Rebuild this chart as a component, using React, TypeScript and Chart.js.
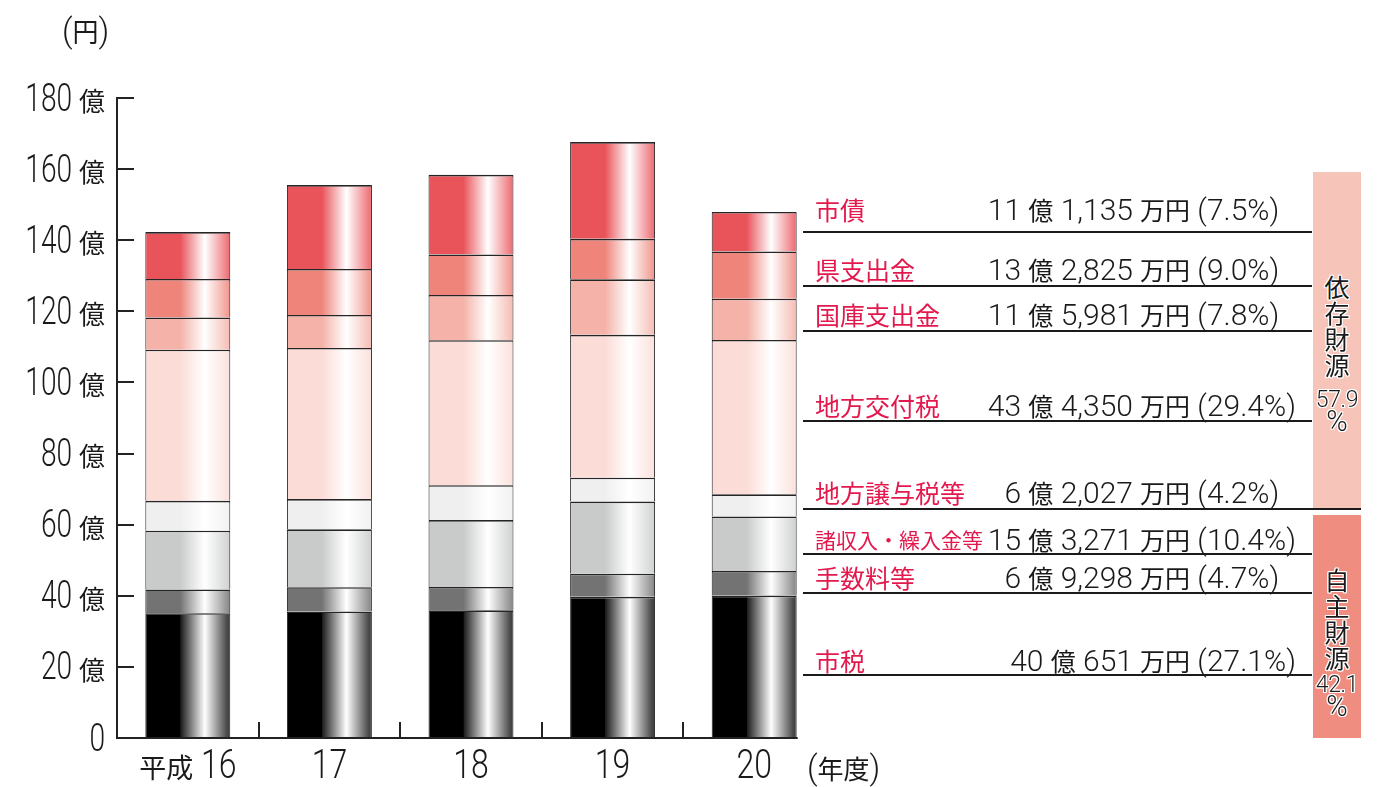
import React, { useEffect, useRef } from 'react';
import { Chart, registerables } from 'chart.js';

Chart.register(...registerables);

// ---------- data ----------
const years = ['平成 16', '17', '18', '19', '20'];
// 億円, bottom to top
const shizei = [35.1, 35.6, 35.9, 39.7, 40.0651];
const tesuuryou = [6.7, 6.8, 6.6, 6.5, 6.9298];
const shoshuunyu = [16.5, 16.3, 18.8, 20.3, 15.3271];
const jouyozei = [8.4, 8.5, 9.8, 6.7, 6.2027];
const koufuzei = [42.5, 42.5, 40.8, 40.2, 43.435];
const kokko = [9.1, 9.3, 12.7, 15.6, 11.5981];
const kenshishutsu = [10.8, 12.9, 11.4, 11.4, 13.2825];
const shisai = [13.2, 23.6, 22.4, 27.2, 11.1135];

const seriesNames = ['市税', '手数料等', '諸収入・繰入金等', '地方譲与税等', '地方交付税', '国庫支出金', '県支出金', '市債'];
const seriesValues = [shizei, tesuuryou, shoshuunyu, jouyozei, koufuzei, kokko, kenshishutsu, shisai];
const seriesColors = ['#000000', '#737373', '#c9cbcb', '#efefef', '#fbdcd6', '#f4b2a8', '#ee847a', '#e9535a'];

const yMax = 180;
const yStep = 20;
const yUnit = '億';

// legend (top to bottom), FY20 breakdown
const legendNames = ['市債', '県支出金', '国庫支出金', '地方交付税', '地方譲与税等', '諸収入・繰入金等', '手数料等', '市税'];
const legendAmounts = ['11 億 1,135', '13 億 2,825', '11 億 5,981', '43 億 4,350', '6 億 2,027', '15 億 3,271', '6 億 9,298', '40 億 651'];
const legendShares = ['7.5%', '9.0%', '7.8%', '29.4%', '4.2%', '10.4%', '4.7%', '27.1%'];
const groupNames = ['依存財源', '自主財源'];
const groupShares = ['57.9', '42.1'];

// ---------- layout ----------
const W = 1389;
const H = 787;
const AREA = { left: 117, top: 98, right: 825, bottom: 738 };
const BAR_FRAC = 0.6;
const legendLineY = [232, 286, 331, 421, 509, 554, 593, 675];
const legendBaseY = [220, 280, 325, 416, 503, 550, 588, 671];
const groupTop = [273, 566];
const groupNumY = [400, 685];
const groupPctY = [421, 706];
const LATIN = "Roboto, 'Noto Sans', sans-serif";
const CJK = "'Noto Sans CJK JP', sans-serif";
const INK = '#1a1a1a';

const isCJK = (ch: string) => /[\u3000-\u9fff\uff00-\uffef]/.test(ch);
function splitRuns(text: string) {
  const out: { t: string; cjk: boolean }[] = [];
  for (const ch of text) {
    const c = isCJK(ch);
    if (out.length && out[out.length - 1].cjk === c) out[out.length - 1].t += ch;
    else out.push({ t: ch, cjk: c });
  }
  return out;
}

// canvas text: condensed latin + cjk
function drawMixed(ctx: CanvasRenderingContext2D, text: string, x: number, y: number, align: 'left' | 'right' | 'center', latinSize: number, latinScale: number, cjkSize: number) {
  const rs = splitRuns(text);
  const lf = `300 ${latinSize}px ${LATIN}`;
  const cf = `${cjkSize}px ${CJK}`;
  const ws = rs.map((r) => {
    ctx.font = r.cjk ? cf : lf;
    return ctx.measureText(r.t).width * (r.cjk ? 1 : latinScale);
  });
  const total = ws.reduce((a, b) => a + b, 0);
  let cx = align === 'left' ? x : align === 'right' ? x - total : x - total / 2;
  ctx.textBaseline = 'middle';
  ctx.textAlign = 'left';
  rs.forEach((r, i) => {
    ctx.save();
    ctx.font = r.cjk ? cf : lf;
    ctx.translate(cx, y);
    if (!r.cjk) ctx.scale(latinScale, 1);
    ctx.fillText(r.t, 0, 0);
    ctx.restore();
    cx += ws[i];
  });
}

function mixWhite(hex: string, t: number) {
  const n = parseInt(hex.slice(1), 16);
  const r = (n >> 16) & 255, g = (n >> 8) & 255, b = n & 255;
  const f = (v: number) => Math.round(v + (255 - v) * t);
  return `rgb(${f(r)},${f(g)},${f(b)})`;
}

function barFill(c: any, base: string) {
  if (c.type !== 'data') return base;
  const chart = c.chart;
  const xs = chart.scales && chart.scales.x;
  if (!xs || !xs.width) return base;
  const cx = xs.getPixelForValue(c.dataIndex);
  const w = (xs.width / years.length) * BAR_FRAC;
  const g = chart.ctx.createLinearGradient(cx - w / 2, 0, cx + w / 2, 0);
  if (base === '#000000') {
    g.addColorStop(0, '#000000');
    g.addColorStop(0.41, '#000000');
    g.addColorStop(0.415, '#1c1c1c');
    g.addColorStop(0.7, '#ffffff');
    g.addColorStop(0.96, '#4a4a4a');
    g.addColorStop(1, '#3a3a3a');
  } else {
    g.addColorStop(0, base);
    g.addColorStop(0.41, base);
    g.addColorStop(0.7, '#ffffff');
    g.addColorStop(1, mixWhite(base, 0.12));
  }
  return g;
}

const yLabel = (v: number) => (v === 0 ? '0' : `${v} ${yUnit}`);

const axisMarks = {
  id: 'axisMarks',
  afterDatasetsDraw(chart: any) {
    const { ctx, chartArea, scales } = chart;
    const x = scales.x, y = scales.y;
    ctx.save();
    ctx.strokeStyle = '#222';
    ctx.lineWidth = 2;
    const line = (x1: number, y1: number, x2: number, y2: number) => {
      ctx.beginPath(); ctx.moveTo(x1, y1); ctx.lineTo(x2, y2); ctx.stroke();
    };
    y.ticks.forEach((t: any) => {
      if (t.value === 0) return;
      const py = Math.round(y.getPixelForValue(t.value));
      line(chartArea.left, py, chartArea.left + 17, py);
    });
    for (let i = 1; i < years.length; i++) {
      const px = Math.round((x.getPixelForValue(i - 1) + x.getPixelForValue(i)) / 2);
      line(px, chartArea.bottom, px, chartArea.bottom - 16);
    }
    const meta = chart.getDatasetMeta(0);
    const last = meta.data[meta.data.length - 1];
    const right = last.x + last.width / 2 + 1;
    line(chartArea.left - 1, chartArea.bottom, right, chartArea.bottom);

    // tick labels (condensed)
    ctx.fillStyle = INK;
    y.ticks.forEach((t: any) => {
      const py = y.getPixelForValue(t.value);
      drawMixed(ctx, yLabel(t.value), chartArea.left - 12, py + 3, 'right', 38, 0.74, 26);
    });
    years.forEach((lab, i) => {
      const px = x.getPixelForValue(i);
      drawMixed(ctx, lab, px, chartArea.bottom + 30, 'center', 40, 0.8, 27);
    });
    ctx.restore();
  },
};

function Mixed({ text, latinSize, cjkSize }: { text: string; latinSize: number; cjkSize: number }) {
  return (
    <>
      {splitRuns(text).map((r, i) => (
        <span key={i} style={r.cjk ? { fontFamily: CJK, fontSize: cjkSize, fontWeight: 400 } : { fontFamily: LATIN, fontSize: latinSize, fontWeight: 300 }}>{r.t}</span>
      ))}
    </>
  );
}

const haloShadow = '1px 0 0 #fff, -1px 0 0 #fff, 0 1px 0 #fff, 0 -1px 0 #fff, 1px 1px 0 #fff, -1px -1px 0 #fff, 1px -1px 0 #fff, -1px 1px 0 #fff';

export default function App() {
  const ref = useRef<HTMLCanvasElement>(null);

  useEffect(() => {
    if (!ref.current) return;
    const chart = new Chart(ref.current, {
      type: 'bar',
      data: {
        labels: years,
        datasets: seriesNames.map((name, i) => ({
          label: name,
          data: seriesValues[i],
          backgroundColor: (c: any) => barFill(c, seriesColors[i]),
          borderColor: 'rgba(25,25,25,0.95)',
          borderWidth: { top: 1.6, left: 1, right: 1, bottom: 0 },
          borderSkipped: false,
          categoryPercentage: 1,
          barPercentage: BAR_FRAC,
        })),
      },
      options: {
        responsive: false,
        animation: false,
        layout: { padding: { left: 0, top: AREA.top, right: W - AREA.right, bottom: 0 } },
        plugins: { legend: { display: false }, tooltip: { enabled: false } },
        scales: {
          x: {
            stacked: true,
            grid: { display: false, drawTicks: false },
            border: { display: false },
            ticks: { display: false },
            afterFit: (s: any) => { s.height = H - AREA.bottom; },
          },
          y: {
            stacked: true,
            min: 0,
            max: yMax,
            grid: { display: false, drawTicks: false },
            border: { display: true, color: '#222', width: 2 },
            ticks: { display: false, stepSize: yStep },
            afterFit: (s: any) => { s.width = AREA.left; },
          },
        },
      },
      plugins: [axisMarks],
    } as any);
    return () => chart.destroy();
  }, []);

  const abs = (style: React.CSSProperties): React.CSSProperties => ({ position: 'absolute', whiteSpace: 'nowrap', color: INK, ...style });

  return (
    <div style={{ position: 'fixed', left: 0, top: 0, width: W, height: H, background: '#fff', overflow: 'hidden' }}>
      <canvas ref={ref} width={W} height={H} style={{ position: 'absolute', left: 0, top: 0, width: W, height: H }} />

      <div style={abs({ left: 62, top: 13, lineHeight: '36px' })}><Mixed text="(円)" latinSize={33} cjkSize={26} /></div>
      <div style={abs({ left: 807, top: 750, lineHeight: '36px' })}><Mixed text="(年度)" latinSize={33} cjkSize={26} /></div>

      {legendNames.map((name, i) => {
        const by = legendBaseY[i];
        const small = name.length > 6;
        return (
          <React.Fragment key={name}>
            <div style={abs({ left: 803, top: legendLineY[i] - 1, width: (i === 4 ? 1361 : 1312) - 803, height: 2, background: INK })} />
            <div style={abs({ left: 815, top: by - 29, lineHeight: '36px', fontFamily: CJK, fontSize: small ? 21 : 25, color: '#e3194d' })}>{name}</div>
            <div style={abs({ right: W - 1133, top: by - 29, lineHeight: '36px' })}><Mixed text={legendAmounts[i]} latinSize={30} cjkSize={25} /></div>
            <div style={abs({ left: 1140, top: by - 29, lineHeight: '36px' })}><Mixed text={`万円 (${legendShares[i]})`} latinSize={30} cjkSize={25} /></div>
          </React.Fragment>
        );
      })}

      <div style={abs({ left: 1313, top: 172, width: 48, height: 336, background: '#f7c4b9' })} />
      <div style={abs({ left: 1313, top: 515, width: 48, height: 223, background: '#ef8d81' })} />

      {groupNames.map((g, gi) => {
        const t0 = groupTop[gi];
        const chars = g.split('');
        const base = { width: 48, left: 1313, textAlign: 'center' as const, textShadow: haloShadow };
        return (
          <React.Fragment key={g}>
            {chars.map((ch, k) => (
              <div key={k} style={abs({ ...base, top: t0 + 26 * k, height: 26, lineHeight: '26px', fontFamily: CJK, fontSize: 25 })}>{ch}</div>
            ))}
            <div style={abs({ ...base, left: 1307, width: 60, top: groupNumY[gi] - 11, height: 22, lineHeight: '22px', fontFamily: LATIN, fontWeight: 300, fontSize: 23, letterSpacing: -0.3 })}>{groupShares[gi]}</div>
            <div style={abs({ ...base, top: groupPctY[gi] - 12, height: 24, lineHeight: '24px', fontFamily: LATIN, fontWeight: 300, fontSize: 29 })}>%</div>
          </React.Fragment>
        );
      })}
    </div>
  );
}
